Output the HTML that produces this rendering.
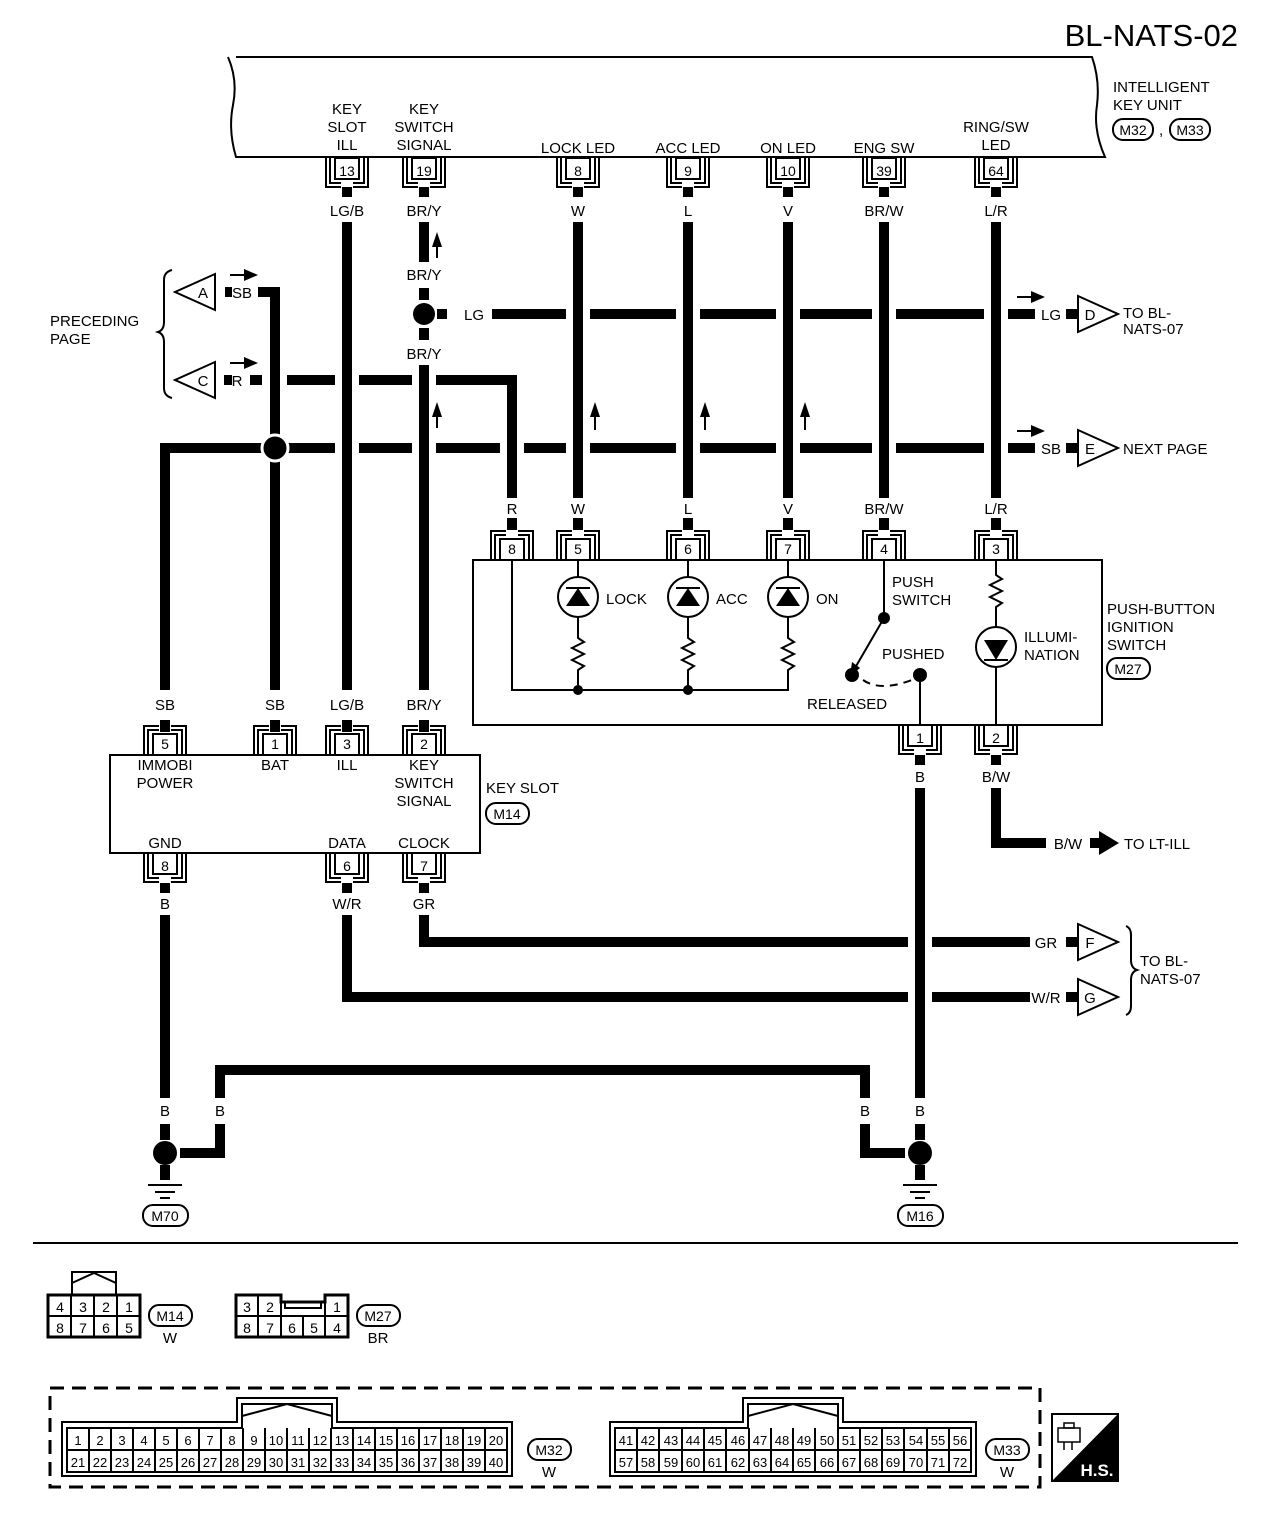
<!DOCTYPE html>
<html><head><meta charset="utf-8"><style>
html,body{margin:0;padding:0;background:#fff}
svg{display:block}
text{font-family:"Liberation Sans",Arial,sans-serif;font-size:15px;fill:#000}
.c{text-anchor:middle}
.n{font-size:14px}
.s{font-size:13px}
</style></head><body>
<svg width="1280" height="1524" viewBox="0 0 1280 1524" xmlns="http://www.w3.org/2000/svg">
<defs>
<g id="cd" fill="none" stroke="#000" stroke-width="2">
<rect x="-12" y="0" width="24" height="21" fill="#fff"/>
<path d="M-21 0V29H-6M6 29H21V0"/>
<path d="M-17 0V25H-6M6 25H17V0"/>
</g>
<g id="cu" transform="scale(1,-1)"><use href="#cd"/></g>
<path id="tri" d="M0 -18 L0 18 L40 0 Z" fill="#fff" stroke="#000" stroke-width="2"/>
<path id="tril" d="M0 -18 L0 18 L-40 0 Z" fill="#fff" stroke="#000" stroke-width="2"/>
</defs>

<text x="1238" y="46" style="font-size:31px" text-anchor="end">BL-NATS-02</text>

<!-- intelligent key unit -->
<path d="M236 57 H1092 Q1100 80 1097 105 Q1093 130 1105 157 H236 Q228 130 233 105 Q238 80 228 57" fill="none" stroke="#000" stroke-width="2"/>
<text x="1113" y="92">INTELLIGENT</text>
<text x="1113" y="110">KEY UNIT</text>
<rect x="1113" y="119" width="40" height="21" rx="10" fill="none" stroke="#000" stroke-width="2"/>
<text x="1133" y="135" class="c n">M32</text>
<text x="1159" y="135">,</text>
<rect x="1170" y="119" width="40" height="21" rx="10" fill="none" stroke="#000" stroke-width="2"/>
<text x="1190" y="135" class="c n">M33</text>

<text x="347" y="114" class="c">KEY</text><text x="347" y="132" class="c">SLOT</text><text x="347" y="150" class="c">ILL</text>
<text x="424" y="114" class="c">KEY</text><text x="424" y="132" class="c">SWITCH</text><text x="424" y="150" class="c">SIGNAL</text>
<text x="578" y="153" class="c">LOCK LED</text>
<text x="688" y="153" class="c">ACC LED</text>
<text x="788" y="153" class="c">ON LED</text>
<text x="884" y="153" class="c">ENG SW</text>
<text x="996" y="132" class="c">RING/SW</text><text x="996" y="150" class="c">LED</text>

<g transform="translate(0,158)">
<use href="#cd" x="347"/><use href="#cd" x="424"/><use href="#cd" x="578"/><use href="#cd" x="688"/><use href="#cd" x="788"/><use href="#cd" x="884"/><use href="#cd" x="996"/>
</g>
<text x="347" y="176" class="c n">13</text><text x="424" y="176" class="c n">19</text><text x="578" y="176" class="c n">8</text><text x="688" y="176" class="c n">9</text><text x="788" y="176" class="c n">10</text><text x="884" y="176" class="c n">39</text><text x="996" y="176" class="c n">64</text>
<g stroke="#000" stroke-width="10" fill="none">
<path d="M347 187V197M424 187V197M578 187V197M688 187V197M788 187V197M884 187V197M996 187V197"/>
</g>
<text x="347" y="216" class="c">LG/B</text><text x="424" y="216" class="c">BR/Y</text><text x="578" y="216" class="c">W</text><text x="688" y="216" class="c">L</text><text x="788" y="216" class="c">V</text><text x="884" y="216" class="c">BR/W</text><text x="996" y="216" class="c">L/R</text>

<!-- wires -->
<g stroke="#000" stroke-width="10" fill="none">
<path d="M347 222V690"/>
<path d="M424 222V262M424 288V300M424 328V340M424 365V690"/>
<path d="M578 222V498M688 222V498M788 222V498M884 222V498M996 222V498"/>
<path d="M578 518V530M688 518V530M788 518V530M884 518V530M996 518V530M512 518V530"/>
<path d="M437 314H447M492 314H566M590 314H676M700 314H776M800 314H872M896 314H984M1008 314H1035M1066 314H1078"/>
<path d="M250 380H262M287 380H335M359 380H412M436 380H512V498"/>
<path d="M225 292H232M258 292H275V435M275 461V690"/>
<path d="M165 690V448H262M288 448H335M359 448H412M436 448H500M524 448H566M590 448H676M700 448H776M800 448H872M896 448H984M1008 448H1035M1066 448H1078"/>
<path d="M224 380H232"/>
<path d="M165 720V732M275 720V732M347 720V732M424 720V732"/>
<path d="M920 755V765M996 755V765"/>
<path d="M920 788V1098M920 1124V1140"/>
<path d="M996 788V843H1046"/>
<path d="M1090 843H1100"/>
<path d="M165 883V893M347 883V893M424 883V893"/>
<path d="M424 915V942H908M932 942H1030M1066 942H1078"/>
<path d="M347 915V997H908M932 997H1030M1066 997H1078"/>
<path d="M165 915V1098M165 1124V1140"/>
<path d="M220 1098V1070H865V1098M220 1124V1153H180M865 1124V1153H905"/>
<path d="M165 1165V1180M920 1165V1180"/>
</g>
<path d="M1099 831L1119 843L1099 855Z"/>
<g stroke="#000" stroke-width="2"><path d="M437 258V240M437 428V410M595 430V410M705 430V410M805 430V410"/></g>
<path d="M437 232L432 247H442Z M437 402L432 417H442Z M595 402L590 417H600Z M705 402L700 417H710Z M805 402L800 417H810Z"/>
<g stroke="#000" stroke-width="2"><path d="M230 275H248M230 363H248M1017 297H1035M1017 431H1035"/></g>
<path d="M244 269L258 275L244 281Z M244 357L258 363L244 369Z M1031 291L1045 297L1031 303Z M1031 425L1045 431L1031 437Z"/>

<circle cx="424" cy="314" r="11"/>
<circle cx="275" cy="448" r="13" stroke="#fff" stroke-width="3"/>
<circle cx="165" cy="1153" r="12"/>
<circle cx="920" cy="1153" r="12"/>

<text x="474" y="320" class="c">LG</text>
<text x="424" y="280" class="c">BR/Y</text>
<text x="424" y="359" class="c">BR/Y</text>
<text x="1051" y="320" class="c">LG</text>
<text x="1051" y="454" class="c">SB</text>
<text x="242" y="298" class="c">SB</text>
<text x="237" y="386" class="c">R</text>

<use href="#tril" x="215" y="292"/><text x="203" y="298" class="c">A</text>
<use href="#tril" x="215" y="380"/><text x="203" y="386" class="c">C</text>
<use href="#tri" x="1078" y="314"/><text x="1090" y="320" class="c">D</text>
<use href="#tri" x="1078" y="448"/><text x="1090" y="454" class="c">E</text>
<use href="#tri" x="1078" y="942"/><text x="1090" y="948" class="c">F</text>
<use href="#tri" x="1078" y="997"/><text x="1090" y="1003" class="c">G</text>
<text x="1123" y="318">TO BL-</text><text x="1123" y="334">NATS-07</text>
<text x="1123" y="454">NEXT PAGE</text>
<text x="1046" y="948" class="c">GR</text>
<text x="1046" y="1003" class="c">W/R</text>
<text x="1068" y="849" class="c">B/W</text>
<text x="1124" y="849">TO LT-ILL</text>
<text x="1140" y="966">TO BL-</text><text x="1140" y="984">NATS-07</text>
<path d="M1126 926Q1131 928 1131 935V960Q1131 968 1137 970Q1131 972 1131 980V1006Q1131 1013 1126 1015" fill="none" stroke="#000" stroke-width="2"/>
<path d="M172 270Q164 272 164 280V322Q164 330 158 332Q164 334 164 342V388Q164 396 172 398" fill="none" stroke="#000" stroke-width="2"/>
<text x="50" y="326">PRECEDING</text><text x="50" y="344">PAGE</text>

<rect x="473" y="560" width="629" height="165" fill="none" stroke="#000" stroke-width="2"/>
<g transform="translate(0,560)">
<use href="#cu" x="512"/><use href="#cu" x="578"/><use href="#cu" x="688"/><use href="#cu" x="788"/><use href="#cu" x="884"/><use href="#cu" x="996"/>
</g>
<text x="512" y="554" class="c n">8</text><text x="578" y="554" class="c n">5</text><text x="688" y="554" class="c n">6</text><text x="788" y="554" class="c n">7</text><text x="884" y="554" class="c n">4</text><text x="996" y="554" class="c n">3</text>
<text x="512" y="514" class="c">R</text><text x="578" y="514" class="c">W</text><text x="688" y="514" class="c">L</text><text x="788" y="514" class="c">V</text><text x="884" y="514" class="c">BR/W</text><text x="996" y="514" class="c">L/R</text>
<g fill="none" stroke="#000" stroke-width="2">
<path d="M512 560V690H788V672"/>
<path d="M578 560V577M578 617V638l6 4l-12 6l12 6l-12 6l12 6l-6 4V690"/>
<path d="M688 560V577M688 617V638l6 4l-12 6l12 6l-12 6l12 6l-6 4V690"/>
<path d="M788 560V577M788 617V638l6 4l-12 6l12 6l-12 6l12 6l-6 4V672"/>
<circle cx="578" cy="597" r="20"/><circle cx="688" cy="597" r="20"/><circle cx="788" cy="597" r="20"/>
<path d="M566 588H590M676 588H700M776 588H800" />
<path d="M996 560V575l6 4l-12 6l12 6l-12 6l12 6l-6 4V627M996 667V725"/>
<circle cx="996" cy="647" r="20"/>
<path d="M984 660H1008"/>
<path d="M884 560V618L855 668"/>
<path d="M863 680Q880 692 912 680" stroke-dasharray="8 6"/>
<path d="M920 675V725"/>
</g>
<path d="M566 606L578 588L590 606Z M676 606L688 588L700 606Z M776 606L788 588L800 606Z M984 640L996 660L1008 640Z"/>
<path d="M850 676L852 662L860 668Z"/>
<circle cx="578" cy="690" r="5"/><circle cx="688" cy="690" r="5"/>
<circle cx="884" cy="618" r="6"/><circle cx="852" cy="675" r="7"/><circle cx="920" cy="675" r="7"/>
<text x="606" y="604">LOCK</text><text x="716" y="604">ACC</text><text x="816" y="604">ON</text>
<text x="892" y="587">PUSH</text><text x="892" y="605">SWITCH</text>
<text x="882" y="659">PUSHED</text>
<text x="807" y="709">RELEASED</text>
<text x="1024" y="642">ILLUMI-</text><text x="1024" y="660">NATION</text>
<text x="1107" y="614">PUSH-BUTTON</text><text x="1107" y="632">IGNITION</text><text x="1107" y="650">SWITCH</text>
<rect x="1107" y="658" width="43" height="21" rx="10" fill="none" stroke="#000" stroke-width="2"/><text x="1128" y="674" class="c n">M27</text>
<g transform="translate(0,725)"><use href="#cd" x="920"/><use href="#cd" x="996"/></g>
<text x="920" y="743" class="c n">1</text><text x="996" y="743" class="c n">2</text>
<text x="920" y="782" class="c">B</text><text x="996" y="782" class="c">B/W</text>

<text x="165" y="710" class="c">SB</text><text x="275" y="710" class="c">SB</text><text x="347" y="710" class="c">LG/B</text><text x="424" y="710" class="c">BR/Y</text>
<rect x="110" y="755" width="370" height="98" fill="none" stroke="#000" stroke-width="2"/>
<g transform="translate(0,755)"><use href="#cu" x="165"/><use href="#cu" x="275"/><use href="#cu" x="347"/><use href="#cu" x="424"/></g>
<text x="165" y="749" class="c n">5</text><text x="275" y="749" class="c n">1</text><text x="347" y="749" class="c n">3</text><text x="424" y="749" class="c n">2</text>
<text x="165" y="770" class="c">IMMOBI</text><text x="165" y="788" class="c">POWER</text>
<text x="275" y="770" class="c">BAT</text><text x="347" y="770" class="c">ILL</text>
<text x="424" y="770" class="c">KEY</text><text x="424" y="788" class="c">SWITCH</text><text x="424" y="806" class="c">SIGNAL</text>
<text x="165" y="848" class="c">GND</text><text x="347" y="848" class="c">DATA</text><text x="424" y="848" class="c">CLOCK</text>
<text x="486" y="793">KEY SLOT</text>
<rect x="486" y="803" width="43" height="21" rx="10" fill="none" stroke="#000" stroke-width="2"/><text x="507" y="819" class="c n">M14</text>
<g transform="translate(0,853)"><use href="#cd" x="165"/><use href="#cd" x="347"/><use href="#cd" x="424"/></g>
<text x="165" y="871" class="c n">8</text><text x="347" y="871" class="c n">6</text><text x="424" y="871" class="c n">7</text>
<text x="165" y="909" class="c">B</text><text x="347" y="909" class="c">W/R</text><text x="424" y="909" class="c">GR</text>

<text x="165" y="1116" class="c">B</text><text x="220" y="1116" class="c">B</text><text x="865" y="1116" class="c">B</text><text x="920" y="1116" class="c">B</text>
<g stroke="#000" stroke-width="2"><path d="M148 1185H182M155 1192H175M160 1198H170M903 1185H937M910 1192H930M915 1198H925"/></g>
<rect x="143" y="1205" width="45" height="21" rx="10" fill="none" stroke="#000" stroke-width="2"/><text x="165" y="1221" class="c n">M70</text>
<rect x="898" y="1205" width="45" height="21" rx="10" fill="none" stroke="#000" stroke-width="2"/><text x="920" y="1221" class="c n">M16</text>

<line x1="33" y1="1243" x2="1238" y2="1243" stroke="#000" stroke-width="2"/>

<g fill="none" stroke="#000" stroke-width="2">
<path d="M72 1296V1272H116V1296M72 1283L94 1273L116 1283"/>
<rect x="48" y="1295" width="92" height="42" stroke-width="3"/>
<path d="M48 1316H140M71 1295V1337M94 1295V1337M117 1295V1337"/>
</g>
<text x="60" y="1312" class="c n">4</text><text x="83" y="1312" class="c n">3</text><text x="106" y="1312" class="c n">2</text><text x="129" y="1312" class="c n">1</text>
<text x="60" y="1333" class="c n">8</text><text x="83" y="1333" class="c n">7</text><text x="106" y="1333" class="c n">6</text><text x="129" y="1333" class="c n">5</text>
<rect x="149" y="1305" width="43" height="21" rx="10" fill="none" stroke="#000" stroke-width="2"/><text x="170" y="1321" class="c n">M14</text>
<text x="170" y="1343" class="c">W</text>

<g fill="none" stroke="#000" stroke-width="2">
<path d="M236 1337V1295H281V1302H325V1295H348V1337Z" stroke-width="3"/>
<path d="M236 1316H348M258 1295V1337M281 1295V1337M303 1316V1337M325 1295V1337"/>
<rect x="285" y="1302" width="36" height="6" stroke-width="2"/>
</g>
<text x="247" y="1312" class="c n">3</text><text x="270" y="1312" class="c n">2</text><text x="337" y="1312" class="c n">1</text>
<text x="247" y="1333" class="c n">8</text><text x="270" y="1333" class="c n">7</text><text x="292" y="1333" class="c n">6</text><text x="314" y="1333" class="c n">5</text><text x="337" y="1333" class="c n">4</text>
<rect x="357" y="1305" width="43" height="21" rx="10" fill="none" stroke="#000" stroke-width="2"/><text x="378" y="1321" class="c n">M27</text>
<text x="378" y="1343" class="c">BR</text>

<rect x="50" y="1388" width="990" height="99" fill="none" stroke="#000" stroke-width="3" stroke-dasharray="14 8"/>

<g fill="none" stroke="#000" stroke-width="2">
<path d="M62 1476V1422H237V1398H337V1422H512V1476Z"/>
<path d="M67 1472V1428H242V1404H332V1428H507V1472Z"/>
<path d="M242 1416L287 1404L332 1416"/>
<path d="M67 1450H507"/>
<path d="M89 1428V1472M111 1428V1472M133 1428V1472M155 1428V1472M177 1428V1472M199 1428V1472M221 1428V1472M243 1428V1472M265 1428V1472M287 1428V1472M309 1428V1472M331 1428V1472M353 1428V1472M375 1428V1472M397 1428V1472M419 1428V1472M441 1428V1472M463 1428V1472M485 1428V1472"/>
</g>
<text x="78" y="1445" class="c s">1</text><text x="100" y="1445" class="c s">2</text><text x="122" y="1445" class="c s">3</text><text x="144" y="1445" class="c s">4</text><text x="166" y="1445" class="c s">5</text><text x="188" y="1445" class="c s">6</text><text x="210" y="1445" class="c s">7</text><text x="232" y="1445" class="c s">8</text><text x="254" y="1445" class="c s">9</text><text x="276" y="1445" class="c s">10</text><text x="298" y="1445" class="c s">11</text><text x="320" y="1445" class="c s">12</text><text x="342" y="1445" class="c s">13</text><text x="364" y="1445" class="c s">14</text><text x="386" y="1445" class="c s">15</text><text x="408" y="1445" class="c s">16</text><text x="430" y="1445" class="c s">17</text><text x="452" y="1445" class="c s">18</text><text x="474" y="1445" class="c s">19</text><text x="496" y="1445" class="c s">20</text>
<text x="78" y="1467" class="c s">21</text><text x="100" y="1467" class="c s">22</text><text x="122" y="1467" class="c s">23</text><text x="144" y="1467" class="c s">24</text><text x="166" y="1467" class="c s">25</text><text x="188" y="1467" class="c s">26</text><text x="210" y="1467" class="c s">27</text><text x="232" y="1467" class="c s">28</text><text x="254" y="1467" class="c s">29</text><text x="276" y="1467" class="c s">30</text><text x="298" y="1467" class="c s">31</text><text x="320" y="1467" class="c s">32</text><text x="342" y="1467" class="c s">33</text><text x="364" y="1467" class="c s">34</text><text x="386" y="1467" class="c s">35</text><text x="408" y="1467" class="c s">36</text><text x="430" y="1467" class="c s">37</text><text x="452" y="1467" class="c s">38</text><text x="474" y="1467" class="c s">39</text><text x="496" y="1467" class="c s">40</text>
<rect x="528" y="1439" width="43" height="21" rx="10" fill="none" stroke="#000" stroke-width="2"/><text x="549" y="1455" class="c n">M32</text>
<text x="549" y="1477" class="c">W</text>

<g fill="none" stroke="#000" stroke-width="2">
<path d="M610 1476V1422H743V1398H843V1422H976V1476Z"/>
<path d="M615 1472V1428H748V1404H838V1428H971V1472Z"/>
<path d="M748 1416L793 1404L838 1416"/>
<path d="M615 1450H971"/>
<path d="M637 1428V1472M659 1428V1472M682 1428V1472M704 1428V1472M726 1428V1472M749 1428V1472M771 1428V1472M793 1428V1472M815 1428V1472M838 1428V1472M860 1428V1472M882 1428V1472M904 1428V1472M927 1428V1472M949 1428V1472"/>
</g>
<text x="626" y="1445" class="c s">41</text><text x="648" y="1445" class="c s">42</text><text x="671" y="1445" class="c s">43</text><text x="693" y="1445" class="c s">44</text><text x="715" y="1445" class="c s">45</text><text x="738" y="1445" class="c s">46</text><text x="760" y="1445" class="c s">47</text><text x="782" y="1445" class="c s">48</text><text x="804" y="1445" class="c s">49</text><text x="827" y="1445" class="c s">50</text><text x="849" y="1445" class="c s">51</text><text x="871" y="1445" class="c s">52</text><text x="893" y="1445" class="c s">53</text><text x="916" y="1445" class="c s">54</text><text x="938" y="1445" class="c s">55</text><text x="960" y="1445" class="c s">56</text>
<text x="626" y="1467" class="c s">57</text><text x="648" y="1467" class="c s">58</text><text x="671" y="1467" class="c s">59</text><text x="693" y="1467" class="c s">60</text><text x="715" y="1467" class="c s">61</text><text x="738" y="1467" class="c s">62</text><text x="760" y="1467" class="c s">63</text><text x="782" y="1467" class="c s">64</text><text x="804" y="1467" class="c s">65</text><text x="827" y="1467" class="c s">66</text><text x="849" y="1467" class="c s">67</text><text x="871" y="1467" class="c s">68</text><text x="893" y="1467" class="c s">69</text><text x="916" y="1467" class="c s">70</text><text x="938" y="1467" class="c s">71</text><text x="960" y="1467" class="c s">72</text>
<rect x="986" y="1439" width="43" height="21" rx="10" fill="none" stroke="#000" stroke-width="2"/><text x="1007" y="1455" class="c n">M33</text>
<text x="1007" y="1477" class="c">W</text>

<rect x="1052" y="1414" width="66" height="67" fill="#fff" stroke="#000" stroke-width="2"/>
<path d="M1118 1414V1481H1052Z"/>
<g fill="none" stroke="#000" stroke-width="1.5"><rect x="1058" y="1428" width="22" height="14"/><rect x="1064" y="1423" width="10" height="5"/><path d="M1064 1442V1450M1072 1442V1450"/></g>
<text x="1097" y="1476" class="c" style="fill:#fff;font-weight:bold;font-size:17px">H.S.</text>
</svg>
</body></html>
